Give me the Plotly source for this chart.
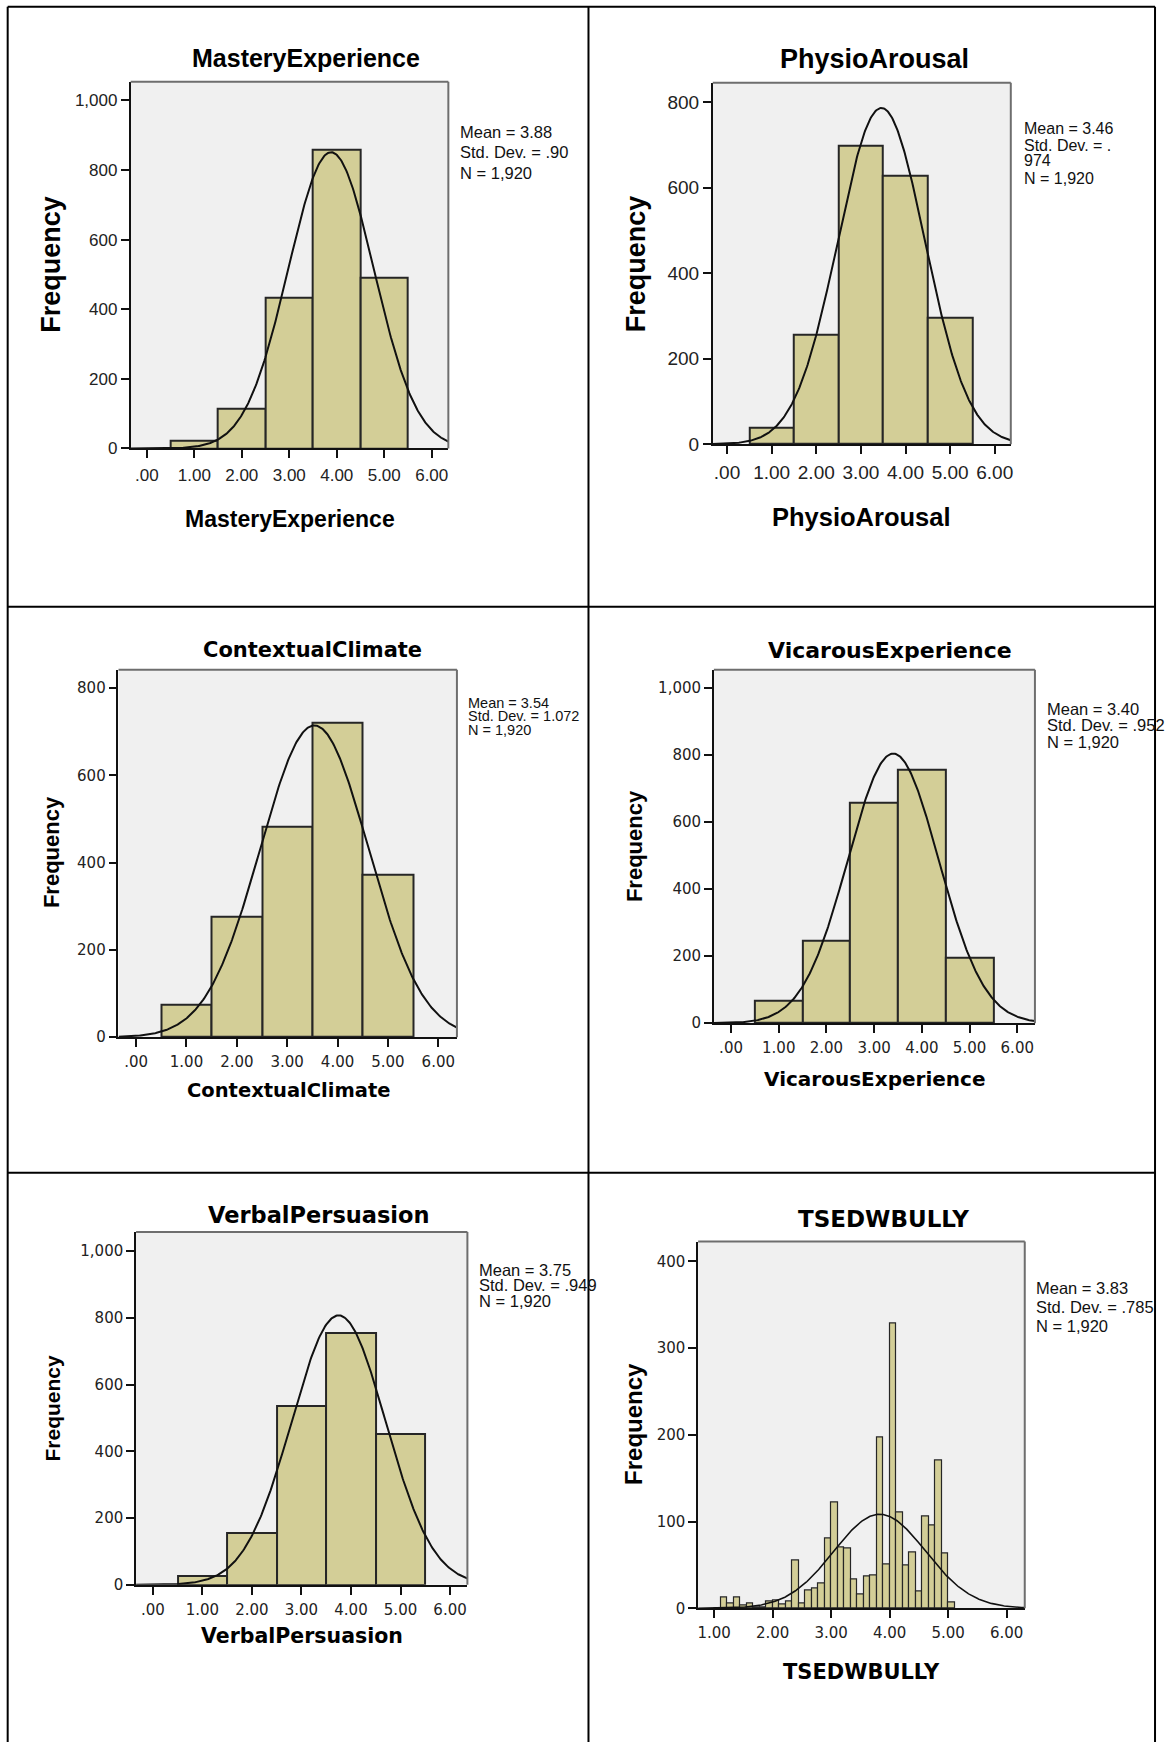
import numpy as np
import plotly.graph_objects as go

W, H = 1165, 1753
KY = 1.006  # small vertical correction of measured pixel positions

# ---------------- data ----------------
titles = ["MasteryExperience", "PhysioArousal", "ContextualClimate",
          "VicarousExperience", "VerbalPersuasion", "TSEDWBULLY"]

mastery_counts = [22, 113, 434, 858, 492]
physio_counts = [38, 256, 698, 628, 295]
contextual_counts = [74, 276, 482, 721, 372]
vicarous_counts = [67, 246, 658, 758, 196]
verbal_counts = [26, 154, 537, 753, 451]
five_bin_centers = [1, 2, 3, 4, 5]
five_bin_width = 1.0

tsed_bin_start = 1.0
tsed_bin_width = 1.0 / 9.0
tsed_counts = [0, 12, 5, 12, 3, 5, 1, 1, 8, 9, 4, 8, 55, 6, 21, 23, 29, 80,
               122, 70, 69, 33, 16, 37, 38, 197, 51, 328, 110, 49, 64, 19,
               106, 96, 170, 63, 7]

means = [3.88, 3.46, 3.54, 3.40, 3.75, 3.83]
sds = [0.90, 0.974, 1.072, 0.952, 0.949, 0.785]
n_obs = 1920

stats_lines = [
    ["Mean = 3.88", "Std. Dev. = .90", "N = 1,920"],
    ["Mean = 3.46", "Std. Dev. = .", "974", "N = 1,920"],
    ["Mean = 3.54", "Std. Dev. = 1.072", "N = 1,920"],
    ["Mean = 3.40", "Std. Dev. = .952", "N = 1,920"],
    ["Mean = 3.75", "Std. Dev. = .949", "N = 1,920"],
    ["Mean = 3.83", "Std. Dev. = .785", "N = 1,920"],
]

x_ticks_0_6 = [0, 1, 2, 3, 4, 5, 6]
x_ticks_1_6 = [1, 2, 3, 4, 5, 6]
x_tick_text = {0: ".00", 1: "1.00", 2: "2.00", 3: "3.00", 4: "4.00", 5: "5.00", 6: "6.00"}
y_ticks_1000 = [0, 200, 400, 600, 800, 1000]
y_ticks_800 = [0, 200, 400, 600, 800]
y_ticks_400 = [0, 100, 200, 300, 400]
y_tick_text = {0: "0", 100: "100", 200: "200", 300: "300", 400: "400",
               600: "600", 800: "800", 1000: "1,000"}

# ---------------- layout spec (pixels) ----------------
BAR = "#D3CE97"
SANS = "Liberation Sans"
DEJA = "DejaVu Sans"

tsed_centers = [tsed_bin_start + (i + 0.5) * tsed_bin_width for i in range(len(tsed_counts))]

panels = [
    dict(counts=mastery_counts, centers=five_bin_centers, bw=five_bin_width,
         box=(130, 448.5, 81.7, 448.6), xr=(-0.34, 6.35), yr=(0, 1054),
         xt=x_ticks_0_6, yt=y_ticks_1000, tickfont=(SANS, 17),
         title=(305.5, 58, SANS, 25), xtitle=(290, 519, SANS, 23),
         ylab=(50.5, 264.5, SANS, 27), stats=(458, [132, 152.5, 173], SANS, 16.5),
         lw=2),
    dict(counts=physio_counts, centers=five_bin_centers, bw=five_bin_width,
         box=(713.6, 1012.4, 82.9, 444.4), xr=(-0.32, 6.36), yr=(0, 845),
         xt=x_ticks_0_6, yt=y_ticks_800, tickfont=(SANS, 19),
         title=(876, 59.5, SANS, 27), xtitle=(862.5, 517.5, SANS, 25.5),
         ylab=(637, 264, SANS, 27), stats=(1024, [128.6, 145.3, 161, 178.9], SANS, 16),
         lw=2),
    dict(counts=contextual_counts, centers=five_bin_centers, bw=five_bin_width,
         box=(117.8, 457.1, 670, 1037.5), xr=(-0.35, 6.37), yr=(0, 842),
         xt=x_ticks_0_6, yt=y_ticks_800, tickfont=(DEJA, 15),
         title=(312, 650.7, DEJA, 21), xtitle=(288, 1091, DEJA, 19.5),
         ylab=(50.5, 852, SANS, 22), stats=(466, [703, 716.7, 730], SANS, 14.5),
         lw=2),
    dict(counts=vicarous_counts, centers=five_bin_centers, bw=five_bin_width,
         box=(714.7, 1036.6, 669.9, 1023.5), xr=(-0.36, 6.37), yr=(0, 1055),
         xt=x_ticks_0_6, yt=y_ticks_1000, tickfont=(DEJA, 15),
         title=(891, 650.7, DEJA, 22), xtitle=(875.4, 1079, DEJA, 20),
         ylab=(635, 846, SANS, 22), stats=(1046.5, [708.8, 725.6, 742.4], SANS, 16.5),
         lw=2),
    dict(counts=verbal_counts, centers=five_bin_centers, bw=five_bin_width,
         box=(135.4, 467.6, 1232.4, 1585.3), xr=(-0.34, 6.35), yr=(0, 1057),
         xt=x_ticks_0_6, yt=y_ticks_1000, tickfont=(DEJA, 15),
         title=(318.6, 1215.3, DEJA, 22.5), xtitle=(301.3, 1636.8, DEJA, 20.5),
         ylab=(51.4, 1408.7, SANS, 21), stats=(477.4, [1270, 1285.7, 1301.4], SANS, 16.5),
         lw=2),
    dict(counts=tsed_counts, centers=tsed_centers, bw=tsed_bin_width,
         box=(698.9, 1026.4, 1241.9, 1608.8), xr=(0.725, 6.31), yr=(0, 423),
         xt=x_ticks_1_6, yt=y_ticks_400, tickfont=(DEJA, 15),
         title=(884.4, 1219.7, DEJA, 23), xtitle=(862.5, 1672.5, DEJA, 21),
         ylab=(634, 1424, SANS, 24), stats=(1035.3, [1288, 1307, 1326], SANS, 16.5),
         lw=1.2),
]


def px(x):
    return x / W


def py(y):
    return max(0.0, 1 - (y * KY) / H)


fig = go.Figure()
layout = dict(width=W, height=H, margin=dict(l=0, r=0, t=0, b=0),
              paper_bgcolor="white", plot_bgcolor="#F0F0F0", showlegend=False,
              bargap=0)
annotations = []
shapes = []

for i, p in enumerate(panels):
    n = i + 1
    sfx = "" if n == 1 else str(n)
    xa, ya = "x" + sfx, "y" + sfx
    x0, x1, y0, y1 = p["box"]

    fig.add_trace(go.Bar(x=p["centers"], y=p["counts"], width=p["bw"],
                         marker=dict(color=BAR, line=dict(color="#262626", width=p["lw"])),
                         xaxis=xa, yaxis=ya, hoverinfo="skip"))
    xs = np.linspace(p["xr"][0], p["xr"][1], 400)
    peak = n_obs * p["bw"] / (sds[i] * np.sqrt(2 * np.pi))
    ys = peak * np.exp(-0.5 * ((xs - means[i]) / sds[i]) ** 2)
    fig.add_trace(go.Scatter(x=xs, y=ys, mode="lines",
                             line=dict(color="#111111", width=2 if n < 6 else 1.6),
                             xaxis=xa, yaxis=ya, hoverinfo="skip"))

    tf = dict(family=p["tickfont"][0], size=p["tickfont"][1], color="#222222")
    layout["xaxis" + sfx] = dict(
        domain=[px(x0), px(x1)], range=list(p["xr"]), anchor=ya,
        tickmode="array", tickvals=p["xt"], ticktext=[x_tick_text[v] for v in p["xt"]],
        ticks="outside", ticklen=8, tickwidth=1.5, tickcolor="#111111",
        showline=True, linecolor="#111111", linewidth=1.6,
        showgrid=False, zeroline=False, tickfont=tf, ticklabelstandoff=2)
    layout["yaxis" + sfx] = dict(
        domain=[py(y1), py(y0)], range=list(p["yr"]), anchor=xa,
        tickmode="array", tickvals=p["yt"], ticktext=[y_tick_text[v] for v in p["yt"]],
        ticks="outside", ticklen=8, tickwidth=1.5, tickcolor="#111111",
        showline=True, linecolor="#111111", linewidth=1.6,
        showgrid=False, zeroline=False, tickfont=tf)

    # grey frame (top and right)
    shapes.append(dict(type="line", xref="paper", yref="paper",
                       x0=px(x0), x1=px(x1), y0=py(y0), y1=py(y0),
                       line=dict(color="#6e6e6e", width=2)))
    shapes.append(dict(type="line", xref="paper", yref="paper",
                       x0=px(x1), x1=px(x1), y0=py(y0), y1=py(y1),
                       line=dict(color="#6e6e6e", width=2)))

    tx, tyy, tfam, tsz = p["title"]
    annotations.append(dict(x=px(tx), y=py(tyy), xref="paper", yref="paper",
                            text="<b>%s</b>" % titles[i], showarrow=False,
                            xanchor="center", yanchor="middle",
                            font=dict(family=tfam, size=tsz, color="black")))
    tx, tyy, tfam, tsz = p["xtitle"]
    annotations.append(dict(x=px(tx), y=py(tyy), xref="paper", yref="paper",
                            text="<b>%s</b>" % titles[i], showarrow=False,
                            xanchor="center", yanchor="middle",
                            font=dict(family=tfam, size=tsz, color="black")))
    tx, tyy, tfam, tsz = p["ylab"]
    annotations.append(dict(x=px(tx), y=py(tyy), xref="paper", yref="paper",
                            text="<b>Frequency</b>", showarrow=False, textangle=-90,
                            xanchor="center", yanchor="middle",
                            font=dict(family=tfam, size=tsz, color="black")))
    sx, sys_, sfam, ssz = p["stats"]
    for line, ly in zip(stats_lines[i], sys_):
        annotations.append(dict(x=px(sx), y=py(ly), xref="paper", yref="paper",
                                text=line, showarrow=False,
                                xanchor="left", yanchor="middle",
                                font=dict(family=sfam, size=ssz, color="#111111")))

# table grid
grid_color = "black"
left, mid, right, top = 6.7, 589, 1157, 6.7
for xv in (left, mid, right):
    shapes.append(dict(type="line", xref="paper", yref="paper",
                       x0=px(xv), x1=px(xv), y0=py(top), y1=0,
                       line=dict(color=grid_color, width=2)))
for yv in (top, 607, 1173):
    shapes.append(dict(type="line", xref="paper", yref="paper",
                       x0=px(left), x1=px(right), y0=py(yv), y1=py(yv),
                       line=dict(color=grid_color, width=2)))

layout["annotations"] = annotations
layout["shapes"] = shapes
fig.update_layout(**layout)
fig.write_html("out.html")
